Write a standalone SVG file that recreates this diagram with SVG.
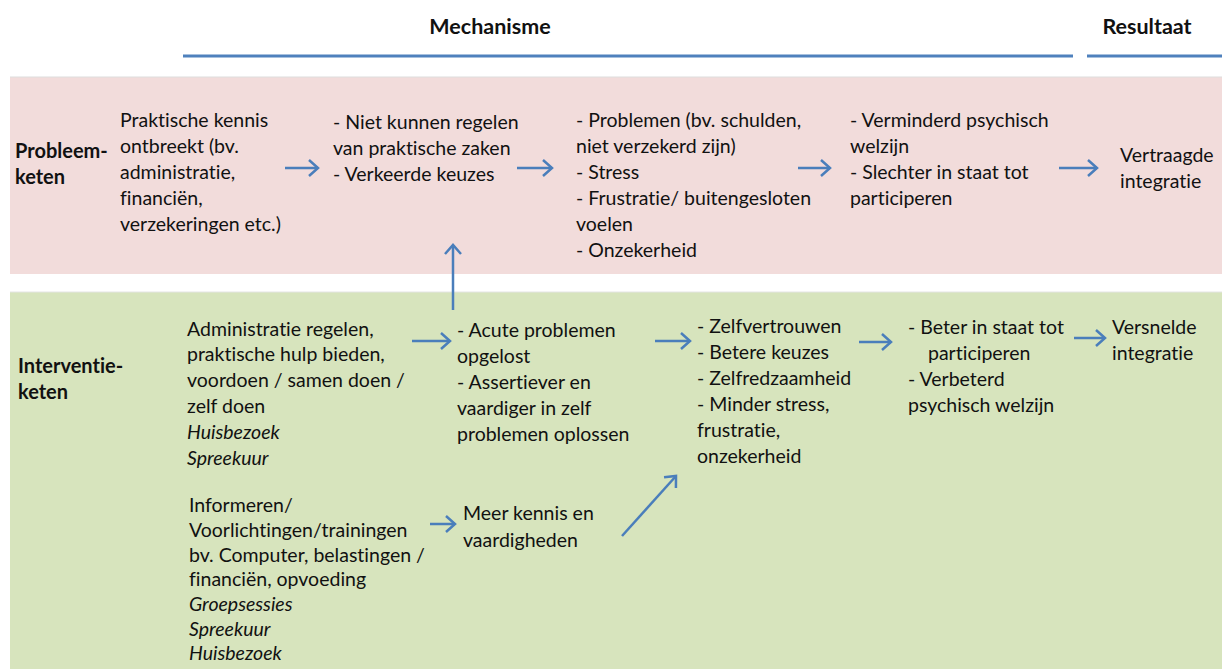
<svg xmlns="http://www.w3.org/2000/svg" width="1222" height="669" viewBox="0 0 1222 669">
<style>
text{font-family:Lato,"Open Sans","Liberation Sans",sans-serif;font-size:19.5px;fill:#111;font-variant-ligatures:none}
.b{font-weight:bold;font-size:20px}
.i{font-style:italic}
.hdr{font-weight:bold;font-size:21.5px}
.con{stroke:#4a7ebb;stroke-width:2.5;fill:none}
</style>
<defs>
<marker id="ah" markerUnits="userSpaceOnUse" markerWidth="14" markerHeight="20" refX="11" refY="9" orient="auto" viewBox="0 0 14 20">
<path d="M2,1 L11,9 L2,17" fill="none" stroke="#4a7ebb" stroke-width="2.5"/>
</marker>
</defs>
<rect width="1222" height="669" fill="#fff"/>
<g id="header">
<text class="hdr" x="490" y="34" text-anchor="middle">Mechanisme</text>
<text class="hdr" x="1147" y="34" text-anchor="middle">Resultaat</text>
<line x1="183" y1="56" x2="1073" y2="56" stroke="#4f81bd" stroke-width="3"/>
<line x1="1087" y1="56" x2="1222" y2="56" stroke="#4f81bd" stroke-width="3"/>
</g>
<g id="bands">
<rect x="10" y="77" width="1212" height="197" fill="#f2dcdb"/>
<line x1="10" y1="77" x2="1222" y2="77" stroke="#ddd" stroke-width="1"/>
<rect x="10" y="292" width="1212" height="377" fill="#d7e4bd"/>
<line x1="10" y1="292" x2="1222" y2="292" stroke="#e4e4e4" stroke-width="1"/>
</g>
<g id="probleem-label"><text class="b" x="15" y="158">Probleem-</text><text class="b" x="15" y="184">keten</text></g>
<g id="p1"><text x="120" y="127">Praktische kennis</text><text x="120" y="153">ontbreekt (bv.</text><text x="120" y="179">administratie,</text><text x="120" y="205">financiën,</text><text x="120" y="231">verzekeringen etc.)</text></g>
<g id="p2"><text x="333" y="129">- Niet kunnen regelen</text><text x="333" y="155">van praktische zaken</text><text x="333" y="181">- Verkeerde keuzes</text></g>
<g id="p3"><text x="576" y="127">- Problemen (bv. schulden,</text><text x="576" y="153">niet verzekerd zijn)</text><text x="576" y="179">- Stress</text><text x="576" y="205">- Frustratie/ buitengesloten</text><text x="576" y="231">voelen</text><text x="576" y="257">- Onzekerheid</text></g>
<g id="p4"><text x="850" y="127">- Verminderd psychisch</text><text x="850" y="153">welzijn</text><text x="850" y="179">- Slechter in staat tot</text><text x="850" y="205">participeren</text></g>
<g id="p5"><text x="1120" y="162">Vertraagde</text><text x="1120" y="188">integratie</text></g>
<g id="interventie-label"><text class="b" x="18" y="373">Interventie-</text><text class="b" x="18" y="399">keten</text></g>
<g id="i1"><text x="187" y="336">Administratie regelen,</text><text x="187" y="361">praktische hulp bieden,</text><text x="187" y="387">voordoen / samen doen /</text><text x="187" y="413">zelf doen</text><text class="i" x="187" y="439">Huisbezoek</text><text class="i" x="187" y="465">Spreekuur</text></g>
<g id="i2"><text x="457" y="337">- Acute problemen</text><text x="457" y="363">opgelost</text><text x="457" y="389">- Assertiever en</text><text x="457" y="415">vaardiger in zelf</text><text x="457" y="441">problemen oplossen</text></g>
<g id="i3"><text x="697" y="333">- Zelfvertrouwen</text><text x="697" y="359">- Betere keuzes</text><text x="697" y="385">- Zelfredzaamheid</text><text x="697" y="411">- Minder stress,</text><text x="697" y="437">frustratie,</text><text x="697" y="463">onzekerheid</text></g>
<g id="i4"><text x="908" y="334">- Beter in staat tot</text><text x="928" y="360">participeren</text><text x="908" y="386">- Verbeterd</text><text x="908" y="412">psychisch welzijn</text></g>
<g id="i5"><text x="1112" y="334">Versnelde</text><text x="1112" y="360">integratie</text></g>
<g id="i6"><text x="189" y="512">Informeren/</text><text x="189" y="537">Voorlichtingen/trainingen</text><text x="189" y="562">bv. Computer, belastingen /</text><text x="189" y="586">financiën, opvoeding</text><text class="i" x="189" y="611">Groepsessies</text><text class="i" x="189" y="636">Spreekuur</text><text class="i" x="189" y="660">Huisbezoek</text></g>
<g id="i7"><text x="463" y="520">Meer kennis en</text><text x="463" y="547">vaardigheden</text></g>
<g id="connectors">
<line class="con" x1="285" y1="168" x2="318" y2="168" marker-end="url(#ah)"/>
<line class="con" x1="517" y1="168" x2="552" y2="168" marker-end="url(#ah)"/>
<line class="con" x1="798" y1="168" x2="830" y2="168" marker-end="url(#ah)"/>
<line class="con" x1="1059" y1="168" x2="1097" y2="168" marker-end="url(#ah)"/>
<line class="con" x1="453" y1="310" x2="453" y2="245" marker-end="url(#ah)"/>
<line class="con" x1="412" y1="341" x2="450" y2="341" marker-end="url(#ah)"/>
<line class="con" x1="655" y1="341" x2="690" y2="341" marker-end="url(#ah)"/>
<line class="con" x1="859" y1="342" x2="891" y2="342" marker-end="url(#ah)"/>
<line class="con" x1="1074" y1="338" x2="1105" y2="338" marker-end="url(#ah)"/>
<line class="con" x1="430" y1="524" x2="455" y2="524" marker-end="url(#ah)"/>
<line class="con" x1="622" y1="536" x2="676" y2="476" marker-end="url(#ah)"/>
</g>
</svg>
